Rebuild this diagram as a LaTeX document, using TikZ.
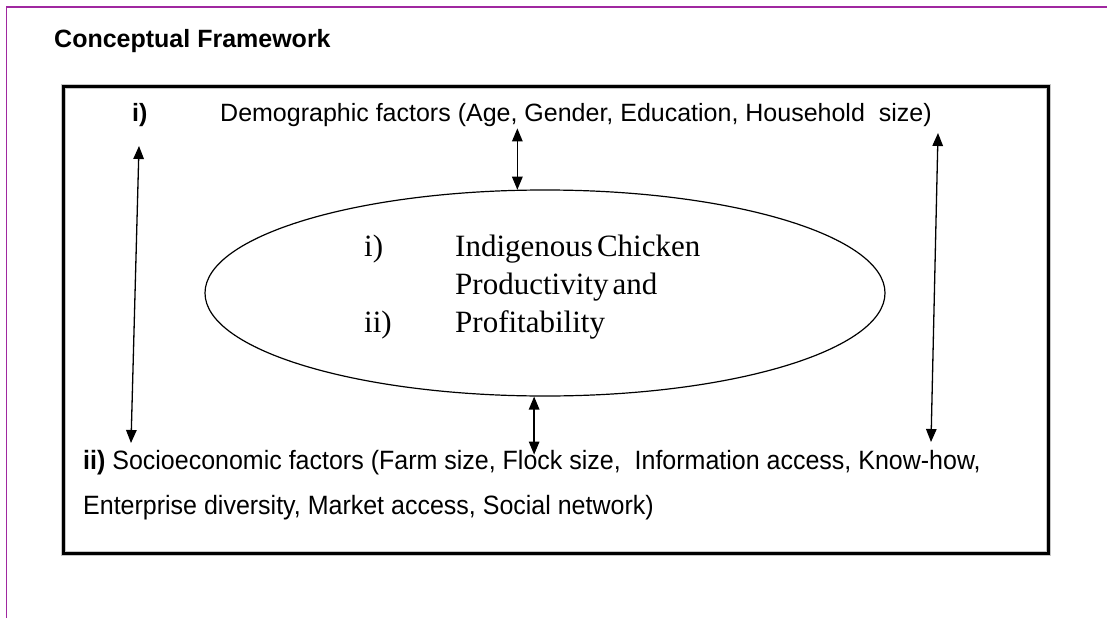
\documentclass[tikz,border=0pt]{standalone}
\usepackage{fontspec}
\setmainfont{Liberation Sans}
\newfontfamily\bodyserif{Liberation Serif}
\usetikzlibrary{arrows.meta,shapes.geometric}
\definecolor{pageedge}{RGB}{160,40,160}
\newcommand{\thinsp}{\hspace{0.13em}}
\tikzset{
  label sans/.style={anchor=base west, inner sep=0pt, font=\fontsize{25}{30}\selectfont},
  label tall/.style={anchor=base west, inner sep=0pt, font=\fontsize{25}{30}\selectfont, yscale=1.06},
  label bold/.style={anchor=base west, inner sep=0pt, font=\bfseries\fontsize{25}{30}\selectfont},
  label serif/.style={anchor=base west, inner sep=0pt, font=\bodyserif\fontsize{31}{36}\selectfont},
  biarrow/.style={{Triangle[length=13pt,width=10.5pt]}-{Triangle[length=13pt,width=10.5pt]}, line width=1.3pt},
  frame/.style={line width=3pt},
  frame shade/.style={gray!45, line width=5pt},
  core shape/.style={draw, ellipse, line width=1.2pt, minimum width=680pt, minimum height=206pt, inner sep=0pt},
}
\begin{document}
\begin{tikzpicture}[x=1pt,y=-1pt]
\useasboundingbox (0,0) rectangle (1107,618);
\fill[white] (0,0) rectangle (1107,618);

% page edge
\draw[pageedge, line width=1.5pt] (6.5,618) -- (6.5,7) -- (1107,7);

% heading
\node[label bold] (title) at (54,48) {Conceptual Framework};

% outer frame
\draw[frame shade] (63.5,86.5) rectangle (1048.5,553.5);
\draw[frame] (63.5,86.5) rectangle (1048.5,553.5);

% demographic factors
\node[label bold] (demoi) at (132,121) {i)};
\node[label sans] (demo) at (220,121) {Demographic factors (Age, Gender, Education, Household\ \ size)};

% central outcome
\node[core shape] (core) at (545,293) {};
\node[label serif] (c1n) at (364,256) {i)};
\node[label serif] (c1) at (455,256) {Indigenous\thinsp Chicken};
\node[label serif] (c2) at (455,294) {Productivity\thinsp and};
\node[label serif] (c3n) at (364,332) {ii)};
\node[label serif] (c3) at (455,332) {Profitability};

% socioeconomic factors
\node[label tall] (socio1) at (83,469) {\textbf{ii)} Socioeconomic factors (Farm size, Flock size,\ \ Information access, Know-how,};
\node[label tall] (socio2) at (83,514) {Enterprise diversity, Market access, Social network)};

% links
\draw[biarrow] ([yshift=-2pt]demo.south -| core.105.4) -- (core.105.4);
\draw[biarrow] (core.-96.7) -- ([yshift=-5pt]socio1.north -| core.-96.7);

\coordinate (lt) at (139,146);
\coordinate (lb) at (131,443);
\coordinate (rt) at (938,133);
\coordinate (rb) at (931,442);
\draw[biarrow] (lt) -- (lb);
\draw[biarrow] (rt) -- (rb);
\end{tikzpicture}
\end{document}
